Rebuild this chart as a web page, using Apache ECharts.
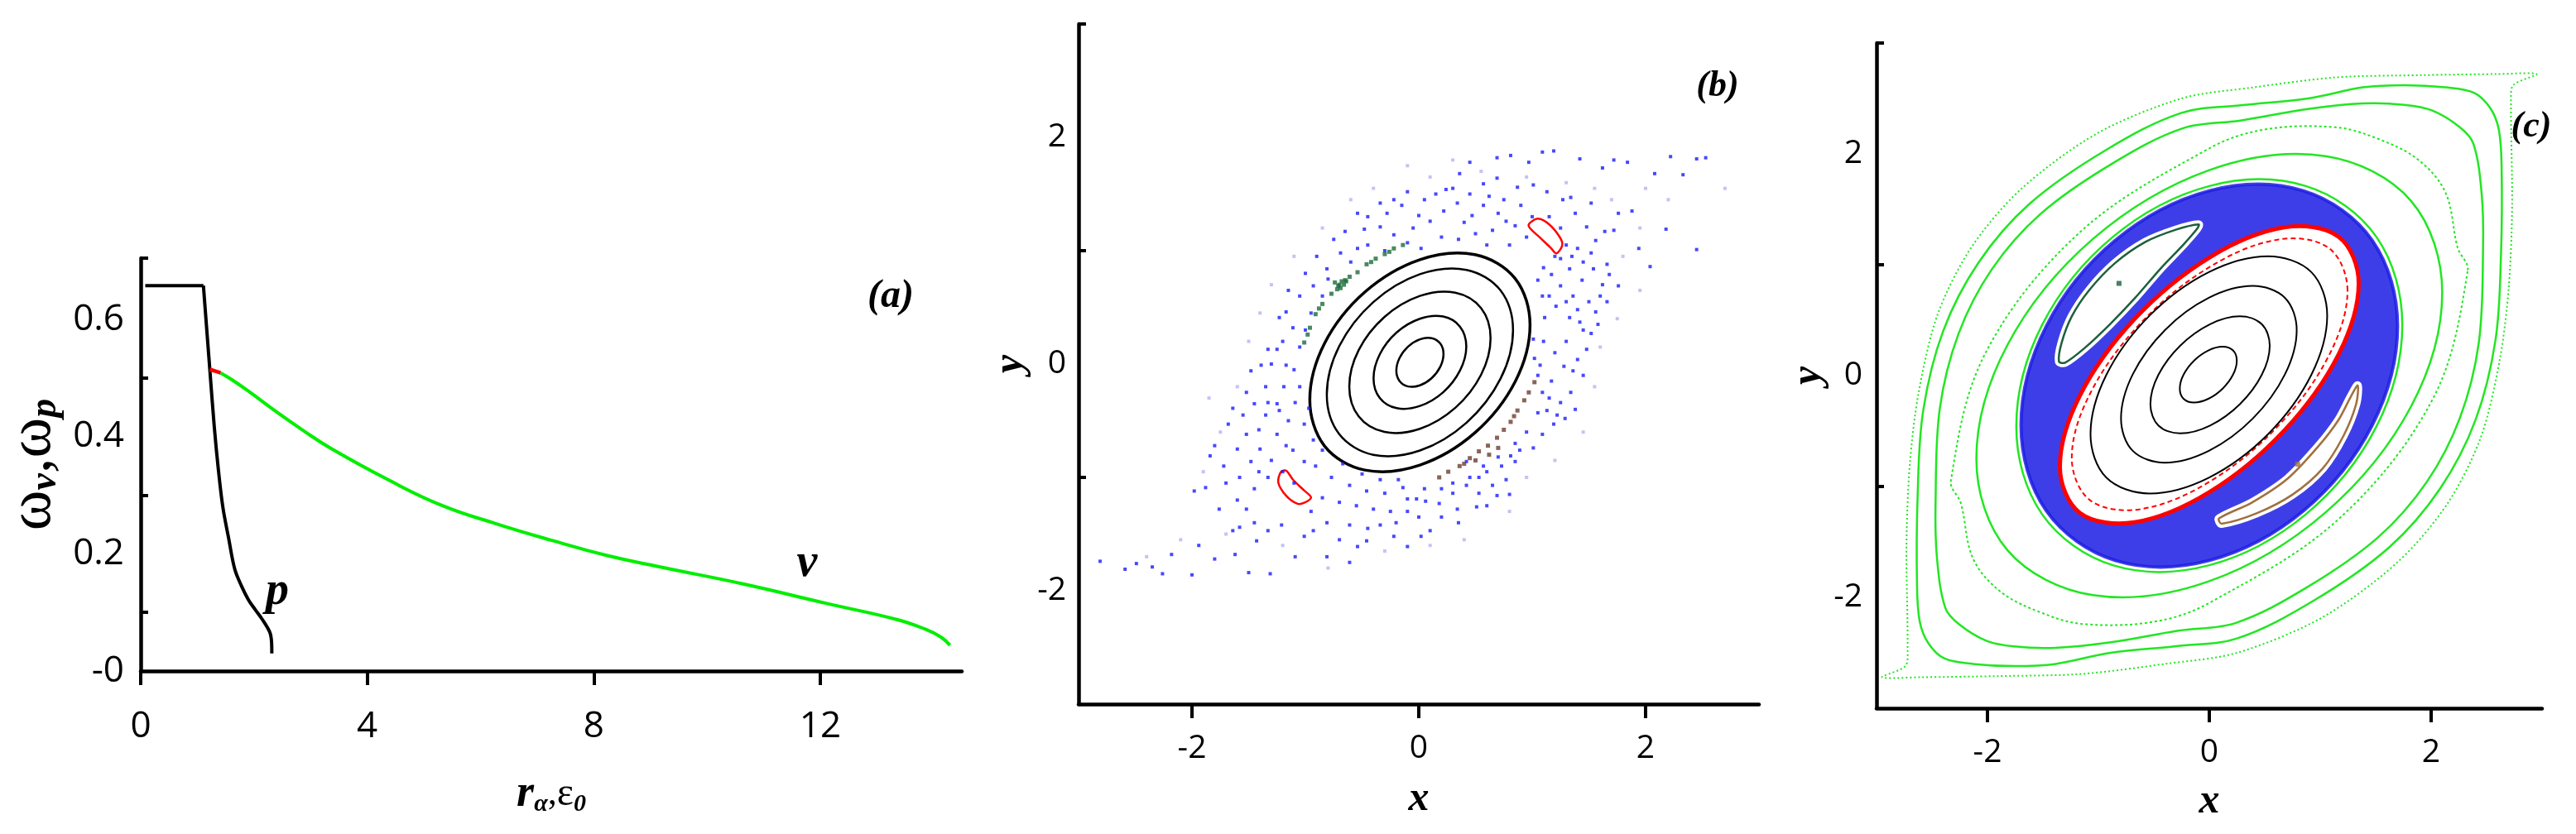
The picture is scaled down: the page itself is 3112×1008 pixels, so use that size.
<!DOCTYPE html>
<html>
<head>
<meta charset="utf-8">
<script src="https://cdn.jsdelivr.net/npm/echarts@6/dist/echarts.min.js"></script>
<style>
html, body { margin: 0; padding: 0; background: #fff; }
#chart { width: 3112px; height: 1008px; }
</style>
</head>
<body>
<div id="chart"></div>
<script>
// ---- panel (a): frequencies vs r_alpha, eps_0 ----
const pFlat = [[0.08, 0.658], [1.107, 0.658]];
const pDrop = [[1.107, 0.658], [1.22, 0.515], [1.30, 0.416], [1.37, 0.345], [1.45, 0.28], [1.55, 0.228],
  [1.66, 0.174], [1.78, 0.145], [1.90, 0.122], [2.02, 0.105], [2.14, 0.089], [2.28, 0.066], [2.31, 0.05], [2.315, 0.03]];
const vRed = [[1.22, 0.515], [1.32, 0.512], [1.41, 0.509]];
const vGreen = [[1.41, 0.509], [1.6, 0.498], [1.9, 0.478], [2.39, 0.443], [2.88, 0.41], [3.36, 0.38], [4.34, 0.328],
  [5.31, 0.283], [6.29, 0.251], [7.26, 0.223], [8.24, 0.197], [9.21, 0.177], [10.67, 0.148], [12.13, 0.115],
  [13.35, 0.088], [13.84, 0.072], [14.13, 0.058], [14.29, 0.044]];
const aXLabels = [0, 4, 8, 12];
const aYLabels = [0, 0.2, 0.4, 0.6];
const aYTicks = [0.1, 0.3, 0.5, 0.705];

// ---- panels (b), (c): shared tick layout ----
const mapLabels = [-2, 0, 2];
const mapXTicks = [-2, 0, 2];
const mapYTicks = [-1, 1, 3];

// ---- panel (b) ----
const bRing1 = [[0.218,0.089],[0.190,0.180],[0.114,0.228],[0.01,0.218],[-0.094,0.154],[-0.170,0.053],[-0.198,-0.059],[-0.170,-0.150],[-0.094,-0.198],[0.01,-0.188],[0.114,-0.124],[0.190,-0.023]];
const bRing2 = [[0.419,0.155],[0.364,0.329],[0.215,0.419],[0.01,0.400],[-0.195,0.279],[-0.344,0.086],[-0.399,-0.125],[-0.344,-0.299],[-0.195,-0.389],[0.01,-0.370],[0.215,-0.249],[0.364,-0.056]];
const bRing3 = [[0.633,0.228],[0.550,0.492],[0.322,0.629],[0.01,0.601],[-0.302,0.416],[-0.530,0.123],[-0.613,-0.198],[-0.530,-0.462],[-0.302,-0.599],[0.01,-0.571],[0.322,-0.386],[0.550,-0.093]];
const bRing4 = [[0.831,0.298],[0.721,0.649],[0.421,0.831],[0.01,0.793],[-0.401,0.547],[-0.701,0.159],[-0.811,-0.268],[-0.701,-0.619],[-0.401,-0.801],[0.01,-0.763],[0.421,-0.517],[0.721,-0.129]];
const bRing5 = [[0.981,0.345],[0.851,0.753],[0.496,0.965],[0.01,0.921],[-0.476,0.635],[-0.831,0.183],[-0.961,-0.315],[-0.831,-0.723],[-0.476,-0.935],[0.01,-0.891],[0.496,-0.605],[0.851,-0.153]];
const bIsleUpper = [[0.968,1.221],[1.047,1.282],[1.146,1.235],[1.245,1.117],[1.265,1.047],[1.214,0.976],[1.166,1.023],[1.067,1.117]];
const bIsleLower = [[-1.215,-0.951],[-1.168,-0.942],[-1.108,-1.022],[-1.010,-1.116],[-0.950,-1.177],[-1.010,-1.224],[-1.069,-1.233],[-1.168,-1.163],[-1.239,-1.045]];
const bGreenDots = [[-1.01,0.19],[-0.96,0.32],[-0.91,0.44],[-0.85,0.53],[-0.77,0.62],[-0.71,0.69],[-0.65,0.74],[-0.61,0.77],
  [-0.54,0.81],[-0.46,0.88],[-0.38,0.93],[-0.30,0.97],[-0.22,1.02],[-0.14,1.05],[-0.70,0.70],[-0.68,0.73],[-0.72,0.66],[-0.66,0.70],
  [-0.74,0.72],[-0.69,0.67],[-0.64,0.73],[-0.98,0.26],[-0.88,0.49],[-0.42,0.90],[-0.26,0.99]];
const bBrownDots = [[0.18,-1.0],[0.26,-0.95],[0.36,-0.90],[0.45,-0.83],[0.53,-0.77],[0.61,-0.72],[0.69,-0.65],[0.75,-0.58],
  [0.81,-0.51],[0.87,-0.41],[0.93,-0.32],[0.97,-0.25],[1.02,-0.16],[0.62,-0.80],[0.70,-0.74],[0.50,-0.85],[0.40,-0.88],[0.84,-0.46]];
const bChaos = [
  [0.69,1.82],[0.81,1.84],[0.97,1.78],[1.09,1.87],[1.19,1.88],[1.42,1.81],[1.62,1.73],[1.72,1.80],[1.84,1.78],[2.08,1.68],
  [2.22,1.83],[2.33,1.67],[2.45,1.81],[2.53,1.82],[0.45,1.78],[0.36,1.68],[0.24,1.54],[0.57,1.59],[0.69,1.64],[0.87,1.56],
  [1.01,1.58],[1.13,1.52],[1.27,1.45],[1.38,1.33],[1.52,1.42],[1.34,1.47],[1.48,1.21],[1.56,1.09],[1.40,1.02],[1.54,0.84],
  [1.64,1.17],[1.76,1.33],[1.88,1.35],[1.72,1.18],[1.94,1.02],[2.04,0.86],[2.18,1.19],[2.45,1.01],
  [-0.34,1.42],[-0.22,1.45],[-0.10,1.52],[0.00,1.31],[0.10,1.26],[0.22,1.35],[0.34,1.42],[0.47,1.31],[0.57,1.40],[0.77,1.26],
  [-0.54,1.33],[-0.65,1.17],[-0.48,1.19],[-0.34,1.21],[-0.22,1.14],[-0.10,1.07],[0.02,1.02],[-0.54,1.02],[-0.69,0.98],[-0.81,0.84],
  [-0.93,0.69],[-1.05,0.60],[-1.17,0.46],[-1.11,0.32],[-1.23,0.41],[-1.33,0.13],[-1.39,-0.01],[-1.25,0.13],[-1.17,-0.01],[-1.19,-0.20],
  [-1.48,-0.06],[-1.52,-0.25],[-1.33,-0.34],[-1.23,-0.41],[-1.41,-0.58],[-1.52,-0.62],[-1.64,-0.39],[-1.68,-0.53],[-1.80,-0.72],[-1.84,-0.81],
  [-1.72,-0.90],[-1.58,-1.00],[-1.48,-0.86],[-1.41,-0.95],[-1.33,-1.00],[-1.52,-1.28],[-1.58,-1.44],[-1.45,-1.40],[-1.33,-1.47],[-1.21,-1.42],
  [-1.01,-1.52],[-0.93,-1.47],[-1.09,-1.70],[-0.81,-1.70],[-0.61,-1.75],[-0.54,-1.61],[-0.81,-1.40],[-0.61,-1.42],[-0.46,-1.56],[-0.34,-1.42],
  [-0.22,-1.52],[-0.10,-1.61],[0.02,-1.52],[0.10,-1.47],[-0.02,-1.19],[-0.14,-1.09],[-0.30,-1.14],[-0.46,-1.12],[-0.61,-1.07],[-0.77,-1.00],
  [-0.91,-0.90],[-1.01,-0.86],[-1.11,-0.76],[-1.17,-0.72],[-1.25,-0.62],[-0.93,-0.67],[-1.01,-0.53],[-1.09,-0.34],[-0.97,-0.39],[-0.85,-0.76],
  [-0.67,-0.88],[-0.50,-0.97],[-0.34,-1.02],[-0.18,-1.02],[-0.10,-1.19],[0.06,-1.21],[0.18,-1.23],[0.30,-1.14],[0.42,-1.07],[0.53,-1.00],
  [0.65,-1.07],[0.77,-1.02],[0.73,-0.90],[0.81,-0.81],[0.89,-0.76],[1.01,-0.74],[1.09,-0.62],[1.19,-0.53],[1.13,-0.41],[1.25,-0.34],
  [1.34,-0.25],[1.36,-0.06],[1.40,0.04],[1.48,0.13],[1.52,0.27],[1.42,0.37],[1.33,0.41],[1.21,0.51],[1.09,0.60],[1.05,0.74],
  [1.17,0.79],[1.25,0.69],[1.36,0.60],[1.11,0.41],[1.01,0.22],[1.07,-0.01],[1.17,-0.15],[1.09,-0.25],[1.29,-0.48],[1.05,-0.43],
  [0.85,-0.86],[0.57,-0.90],[0.42,-0.86],[0.53,-1.14],[0.69,-1.16],[0.34,-1.28],[0.51,-1.26],
  [-2.81,-1.74],[-2.59,-1.81],[-2.49,-1.76],[-2.35,-1.79],[-2.26,-1.85],[-2.18,-1.68],[-2.00,-1.86],[-1.94,-1.60],[-1.80,-1.72],[-1.62,-1.68],
  [-1.50,-1.84],[-1.31,-1.85],[-1.43,-1.56],[-1.64,-1.47],[-1.76,-1.28],[-1.88,-1.09],[-1.98,-1.12],
  [1.60,0.60],[1.66,0.55],[1.68,0.79],[1.76,0.69],[1.56,0.46],[1.44,0.74],[1.33,0.84],[1.25,0.93],[1.52,0.98],[1.66,0.88],
  [-0.45,1.30],[-0.28,1.33],[-0.15,1.40],[0.05,1.45],[0.15,1.50],[0.30,1.55],[0.45,1.50],[0.62,1.48],[0.75,1.45],[0.90,1.40],
  [1.00,1.30],[0.85,1.22],[0.65,1.18],[0.50,1.15],[0.35,1.10],[0.20,1.12],[-0.05,1.20],[0.40,1.25],[0.70,1.33],[1.15,1.30],
  [1.25,1.20],[1.30,1.05],[0.95,1.12],[0.80,1.05],[0.60,1.05],
  [1.20,0.95],[1.10,0.85],[1.15,0.60],[1.30,0.55],[1.40,0.48],[1.45,0.30],[1.30,0.20],[1.20,0.10],[1.28,-0.02],[1.45,-0.10],
  [1.38,-0.40],[1.22,-0.45],[1.15,-0.30],[1.05,-0.10],[1.02,0.05],[1.10,0.20],[1.50,0.55],[1.58,0.35],[1.62,0.70],[1.45,0.90],[1.35,0.95],
  [0.95,-0.60],[0.85,-0.70],[0.70,-0.82],[0.60,-0.95],[0.45,-1.00],[0.30,-1.05],[0.20,-1.10],[0.05,-1.10],[-0.10,-1.30],[-0.25,-1.30],
  [-0.40,-1.28],[-0.55,-1.25],[-0.70,-1.22],[-0.85,-1.18],[-0.20,-1.40],[0.00,-1.35],[0.20,-1.35],[0.35,-1.40],[-0.45,-1.45],[-0.70,-1.55],
  [-0.95,-1.30],[0.60,-1.25],[0.80,-1.15],
  [-1.05,-0.20],[-1.10,-0.05],[-1.05,0.15],[-1.00,0.30],[-0.95,0.45],[-1.20,0.20],[-1.30,0.00],[-1.35,-0.20],[-1.25,-0.35],[-1.15,-0.50],
  [-1.35,-0.45],[-1.45,-0.35],[-1.55,-0.45],[-1.60,-0.75],[-1.40,-0.75],[-1.30,-0.85],[-1.20,-0.95],[-1.10,-1.05],[-1.45,-1.10],[-1.60,-1.20],
  [-1.70,-1.05],[-0.85,0.60],[-0.80,0.75],[-0.60,0.90],[-0.45,1.05],[-0.30,1.00],[-1.00,0.80],[-1.15,0.65],[-0.75,1.10],[-0.90,0.95]
];
const bChaosLight = [[-0.40,1.55],[0.10,1.65],[0.55,1.70],[0.95,1.65],[1.30,1.60],[1.70,1.45],[1.95,1.20],[2.20,1.45],[2.70,1.55],[1.80,0.95],
  [1.75,0.40],[1.60,0.15],[1.55,-0.20],[1.45,-0.60],[1.20,-0.85],[0.95,-1.00],[0.80,-1.30],[0.40,-1.55],[0.10,-1.60],[-0.30,-1.65],
  [-0.80,-1.80],[-1.20,-1.60],[-1.70,-1.50],[-2.10,-1.55],[-2.40,-1.70],[-1.90,-0.95],[-1.75,-0.60],[-1.60,-0.20],[-1.50,0.20],[-1.40,0.45],
  [-1.30,0.70],[-1.10,0.95],[-0.85,1.20],[-0.60,1.45],[-1.85,-0.30],[2.0,1.55],[1.55,1.55],[0.30,1.80],[-0.10,1.75],[1.95,0.65]];

// ---- panel (c) ----
const cRing1 = [[0.248,0.135],[0.214,0.227],[0.120,0.261],[-0.009,0.227],[-0.138,0.135],[-0.232,0.009],[-0.266,-0.117],[-0.232,-0.209],[-0.138,-0.243],[-0.009,-0.209],[0.120,-0.117],[0.214,0.009]];
const cRing2 = [[0.545,0.271],[0.473,0.464],[0.276,0.535],[0.007,0.464],[-0.262,0.271],[-0.459,0.007],[-0.531,-0.257],[-0.459,-0.450],[-0.262,-0.521],[0.007,-0.450],[0.276,-0.257],[0.473,0.007]];
const cRing3 = [[0.788,0.411],[0.682,0.702],[0.392,0.809],[-0.004,0.702],[-0.400,0.411],[-0.690,0.012],[-0.796,-0.387],[-0.690,-0.678],[-0.400,-0.785],[-0.004,-0.678],[0.392,-0.387],[0.682,0.012]];
const cRing4 = [[1.063,0.542],[0.920,0.934],[0.530,1.077],[-0.004,0.934],[-0.538,0.542],[-0.928,0.007],[-1.071,-0.528],[-0.928,-0.920],[-0.538,-1.063],[-0.004,-0.920],[0.530,-0.528],[0.920,0.007]];
const cRedThin = [[1.246,0.768],[1.079,1.150],[0.625,1.228],[0.003,0.980],[-0.619,0.473],[-1.073,-0.159],[-1.240,-0.744],[-1.073,-1.126],[-0.619,-1.204],[0.003,-0.956],[0.625,-0.449],[1.079,0.183]];
const cRedThick = [[1.347,0.834],[1.167,1.252],[0.674,1.337],[0,1.065],[-0.674,0.511],[-1.167,-0.180],[-1.347,-0.820],[-1.167,-1.238],[-0.674,-1.323],[0,-1.051],[0.674,-0.497],[1.167,0.194]];
const cSeaOuter = [[1.697,0.447],[1.469,1.220],[0.848,1.667],[0,1.667],[-0.848,1.220],[-1.469,0.447],[-1.697,-0.447],[-1.469,-1.220],[-0.848,-1.667],[0,-1.667],[0.848,-1.220],[1.469,-0.447]];
const cGreenE = [[1.74,0.458],[1.507,1.251],[0.87,1.710],[0,1.710],[-0.87,1.251],[-1.507,0.458],[-1.74,-0.458],[-1.507,-1.251],[-0.87,-1.710],[0,-1.710],[0.87,-1.251],[1.507,-0.458]];
const cGreenD = [[2.1,0.75],[1.819,1.576],[1.05,1.98],[0,1.854],[-1.05,1.232],[-1.819,0.278],[-2.1,-0.75],[-1.819,-1.576],[-1.05,-1.98],[0,-1.854],[1.05,-1.232],[1.819,-0.278]];
const cGreenC = [[2.33,0.95],[2.24,1.15],[2.13,1.65],[1.88,1.95],[1.51,2.14],[1.14,2.24],[0.5,2.22],[0,2.05],[-1.17,1.29],[-2.02,0.20],
  [-2.33,-0.95],[-2.24,-1.15],[-2.13,-1.65],[-1.88,-1.95],[-1.51,-2.14],[-1.14,-2.24],[-0.5,-2.22],[0,-2.05],[1.17,-1.29],[2.02,-0.20]];
const cGreenB = [[0.888,2.405],[1.385,2.455],[1.759,2.443],[2.007,2.393],[2.256,2.243],[2.380,2.094],[2.455,1.646],[2.468,1.149],[2.43,0.30],
  [2.26,-0.38],[1.96,-0.96],[1.52,-1.46],[0.88,-1.91],[0.24,-2.23],[-0.28,-2.30],[-0.888,-2.405],[-1.385,-2.455],[-1.759,-2.443],
  [-2.007,-2.393],[-2.256,-2.243],[-2.380,-2.094],[-2.455,-1.646],[-2.468,-1.149],[-2.43,-0.30],[-2.26,0.38],[-1.96,0.96],[-1.52,1.46],
  [-0.88,1.91],[-0.24,2.23],[0.28,2.30]];
const cGreenA = [[0.3,2.44],[0.89,2.50],[1.385,2.60],[1.76,2.62],[2.13,2.60],[2.39,2.55],[2.535,2.41],[2.61,2.22],[2.635,1.90],[2.63,1.10],
  [2.58,0.32],[2.40,-0.40],[2.08,-1.02],[1.62,-1.55],[0.94,-2.03],[0.25,-2.37],[-0.3,-2.44],[-0.89,-2.50],[-1.385,-2.60],[-1.76,-2.62],
  [-2.13,-2.60],[-2.39,-2.55],[-2.535,-2.41],[-2.61,-2.22],[-2.635,-1.90],[-2.63,-1.10],[-2.58,-0.32],[-2.40,0.40],[-2.08,1.02],
  [-1.62,1.55],[-0.94,2.03],[-0.25,2.37]];
const cGreenEdge = [[-0.25,2.50],[0.4,2.60],[1.14,2.69],[1.9,2.71],[2.6,2.72],[2.95,2.72],[2.74,2.62],[2.72,2.47],[2.73,1.52],[2.70,0.80],
  [2.62,0.15],[2.45,-0.55],[2.15,-1.15],[1.70,-1.68],[1.02,-2.18],[0.25,-2.50],[-0.4,-2.60],[-1.14,-2.69],[-1.9,-2.71],[-2.6,-2.72],
  [-2.95,-2.72],[-2.74,-2.62],[-2.72,-2.47],[-2.73,-1.52],[-2.70,-0.80],[-2.62,-0.15],[-2.45,0.55],[-2.15,1.15],[-1.70,1.68],[-1.02,2.18]];
const cIsleGreen = [[-0.096,1.364],[-0.302,1.316],[-0.576,1.206],[-0.851,1.014],[-1.080,0.774],[-1.240,0.534],[-1.332,0.294],[-1.355,0.127],
  [-1.300,0.117],[-1.126,0.247],[-0.897,0.462],[-0.668,0.702],[-0.439,0.966],[-0.233,1.182],[-0.109,1.326]];
const cIsleBrown = [[1.338,-0.089],[1.324,-0.257],[1.209,-0.545],[1.026,-0.833],[0.752,-1.072],[0.431,-1.240],[0.111,-1.336],
  [0.088,-1.288],[0.385,-1.144],[0.706,-0.929],[0.980,-0.641],[1.164,-0.401],[1.278,-0.185]];
const cGreenCore = [[-0.814, 0.832]];
const cBrownCore = [[0.797, -0.799]];

const SERIF = '"Liberation Serif", "Times New Roman", serif';
const SANS = '"Open Sans", "Noto Sans", sans-serif';

function axisLineStyle() { return { show: true, onZero: false, lineStyle: { color: '#000', width: 4.5 } }; }

function makeXAxis(grid, min, max, labels, ticks, fontSize, margin, name, nameGap, nameStyle) {
  return {
    gridIndex: grid, type: 'value', min: min, max: max,
    axisLine: axisLineStyle(),
    axisTick: { show: true, inside: false, length: 17, customValues: ticks, lineStyle: { color: '#000', width: 4 } },
    axisLabel: { customValues: labels, fontSize: fontSize, fontFamily: SANS, color: '#000', margin: margin },
    splitLine: { show: false },
    name: name, nameLocation: 'middle', nameGap: nameGap, nameTextStyle: nameStyle
  };
}

function makeYAxis(grid, min, max, labels, ticks, fontSize, margin, name, nameGap, nameStyle, fmt) {
  return {
    gridIndex: grid, type: 'value', min: min, max: max,
    axisLine: axisLineStyle(),
    axisTick: { show: true, inside: true, length: 9, customValues: ticks, lineStyle: { color: '#000', width: 4 } },
    axisLabel: { customValues: labels, fontSize: fontSize, fontFamily: SANS, color: '#000', margin: margin, formatter: fmt },
    splitLine: { show: false },
    name: name, nameLocation: 'middle', nameGap: nameGap, nameTextStyle: nameStyle
  };
}

function line(grid, data, color, width, smooth) {
  return { type: 'line', xAxisIndex: grid, yAxisIndex: grid, data: data, symbol: 'none', smooth: smooth,
    lineStyle: { color: color, width: width }, silent: true, z: 3 };
}

// closed curve drawn as a polygon through the axis scales
function loop(grid, pts, opt) {
  return {
    type: 'custom', xAxisIndex: grid, yAxisIndex: grid, data: pts, silent: true, z: opt.z || 3,
    renderItem: function (params, api) {
      if (params.dataIndex !== 0) return null;
      const points = pts.map(function (p) { return api.coord(p); });
      return {
        type: 'polygon',
        shape: { points: points, smooth: opt.smooth == null ? 0.35 : opt.smooth },
        style: { fill: opt.fill || 'none', stroke: opt.stroke || null, lineWidth: opt.width || 2, lineDash: opt.dash || null }
      };
    }
  };
}

function dots(grid, data, color, size) {
  return { type: 'scatter', xAxisIndex: grid, yAxisIndex: grid, data: data, symbol: 'rect', symbolSize: size,
    itemStyle: { color: color }, silent: true, z: 4 };
}

const titleStyle = { fontFamily: SERIF, fontStyle: 'italic', fontWeight: 'bold', fontSize: 50, color: '#000' };
const tag = function (text, x, y, size) {
  return { type: 'text', x: x, y: y, style: { text: text, font: 'italic bold ' + size + 'px ' + SERIF, fill: '#000',
    align: 'center', verticalAlign: 'middle', textAlign: 'center', textVerticalAlign: 'middle' } };
};

const option = {
  animation: false,
  backgroundColor: '#fff',
  grid: [
    { left: 170, top: 312, width: 992, height: 499, containLabel: false, outerBoundsMode: 'none' },
    { left: 1303, top: 29, width: 822, height: 822, containLabel: false, outerBoundsMode: 'none' },
    { left: 2267, top: 52, width: 804, height: 804, containLabel: false, outerBoundsMode: 'none' }
  ],
  xAxis: [
    makeXAxis(0, 0, 14.5, aXLabels, aXLabels, 44, 45,
      '{r|r}{s|α}{c|,}{e|ε}{s|0}', 122, {
        rich: {
          r: { fontFamily: SERIF, fontStyle: 'italic', fontWeight: 'bold', fontSize: 54, color: '#000' },
          s: { fontFamily: SERIF, fontStyle: 'italic', fontWeight: 'bold', fontSize: 30, color: '#000', verticalAlign: 'bottom' },
          c: { fontFamily: SERIF, fontSize: 44, color: '#000' },
          e: { fontFamily: SERIF, fontSize: 48, color: '#000' }
        }
      }),
    makeXAxis(1, -3, 3, mapLabels, mapXTicks, 39, 34, 'x', 90, titleStyle),
    makeXAxis(2, -3, 3, mapLabels, mapXTicks, 39, 34, 'x', 88, titleStyle)
  ],
  yAxis: [
    makeYAxis(0, 0, 0.705, aYLabels, aYTicks, 44, 20, '{w|ω}{s|v}{w|,ω}{s|p}', 92, {
        rich: {
          w: { fontFamily: SERIF, fontSize: 74, color: '#000' },
          s: { fontFamily: SERIF, fontStyle: 'italic', fontWeight: 'bold', fontSize: 46, color: '#000', verticalAlign: 'bottom' }
        }
      }, function (v) { return v === 0 ? '-0' : v.toFixed(1); }),
    makeYAxis(1, -3, 3, mapLabels, mapYTicks, 39, 15, 'y', 57, titleStyle),
    makeYAxis(2, -3, 3, mapLabels, mapYTicks, 39, 17, 'y', 57, titleStyle)
  ],
  series: [
    // (a)
    line(0, pFlat, '#000', 4, false),
    line(0, pDrop, '#000', 4, 0.35),
    line(0, vGreen, '#00ee00', 4, 0.45),
    line(0, vRed, '#ff0000', 4.5, 0.3),
    // (b)
    dots(1, bChaosLight, '#b4b4f2', 4),
    dots(1, bChaos, '#1a1aff', 4),
    loop(1, bRing1, { stroke: '#000', width: 2.5 }),
    loop(1, bRing2, { stroke: '#000', width: 2.5 }),
    loop(1, bRing3, { stroke: '#000', width: 2.5 }),
    loop(1, bRing4, { stroke: '#000', width: 2.5 }),
    loop(1, bRing5, { stroke: '#000', width: 3.5 }),
    loop(1, bIsleUpper, { stroke: '#ff0000', width: 2.5, smooth: 0.3 }),
    loop(1, bIsleLower, { stroke: '#ff0000', width: 2.5, smooth: 0.3 }),
    dots(1, bGreenDots, '#1b6b3a', 5),
    dots(1, bBrownDots, '#6b3d2e', 5),
    // (c)
    loop(2, cSeaOuter, { fill: 'rgba(30,30,228,0.86)', stroke: 'rgba(30,30,228,0.86)', width: 4, z: 1 }),
    loop(2, cIsleGreen, { fill: '#fff', stroke: '#fff', width: 10, smooth: 0.3, z: 2 }),
    loop(2, cIsleBrown, { fill: '#fff', stroke: '#fff', width: 10, smooth: 0.3, z: 2 }),
    loop(2, cRedThick, { fill: '#fff', stroke: '#ff0000', width: 5, z: 2 }),
    loop(2, cRedThin, { stroke: '#ff0000', width: 2, dash: [6, 4] }),
    loop(2, cRing1, { stroke: '#000', width: 2 }),
    loop(2, cRing2, { stroke: '#000', width: 2 }),
    loop(2, cRing3, { stroke: '#000', width: 2 }),
    loop(2, cRing4, { stroke: '#000', width: 2 }),
    loop(2, cIsleGreen, { stroke: '#1d5f3d', width: 2.5, smooth: 0.3 }),
    loop(2, cIsleBrown, { stroke: '#a07040', width: 2.5, smooth: 0.3 }),
    loop(2, cGreenE, { stroke: '#22e622', width: 2.5 }),
    loop(2, cGreenD, { stroke: '#22e622', width: 2.5 }),
    loop(2, cGreenC, { stroke: '#22e622', width: 2, dash: [3, 3] }),
    loop(2, cGreenB, { stroke: '#22e622', width: 2.5 }),
    loop(2, cGreenA, { stroke: '#22e622', width: 2.5 }),
    loop(2, cGreenEdge, { stroke: '#22e622', width: 2, dash: [2, 3], smooth: 0.3 }),
    dots(2, cGreenCore, '#1d5f3d', 6),
    dots(2, cBrownCore, '#a07040', 6)
  ],
  graphic: [
    tag('(a)', 1076, 359, 48),
    tag('(b)', 2075, 105, 44),
    tag('(c)', 3058, 154, 44),
    tag('p', 335, 716, 56),
    tag('v', 975, 682, 56)
  ]
};

const chart = echarts.init(document.getElementById('chart'), null, { renderer: 'canvas' });
chart.setOption(option);
</script>
</body>
</html>
